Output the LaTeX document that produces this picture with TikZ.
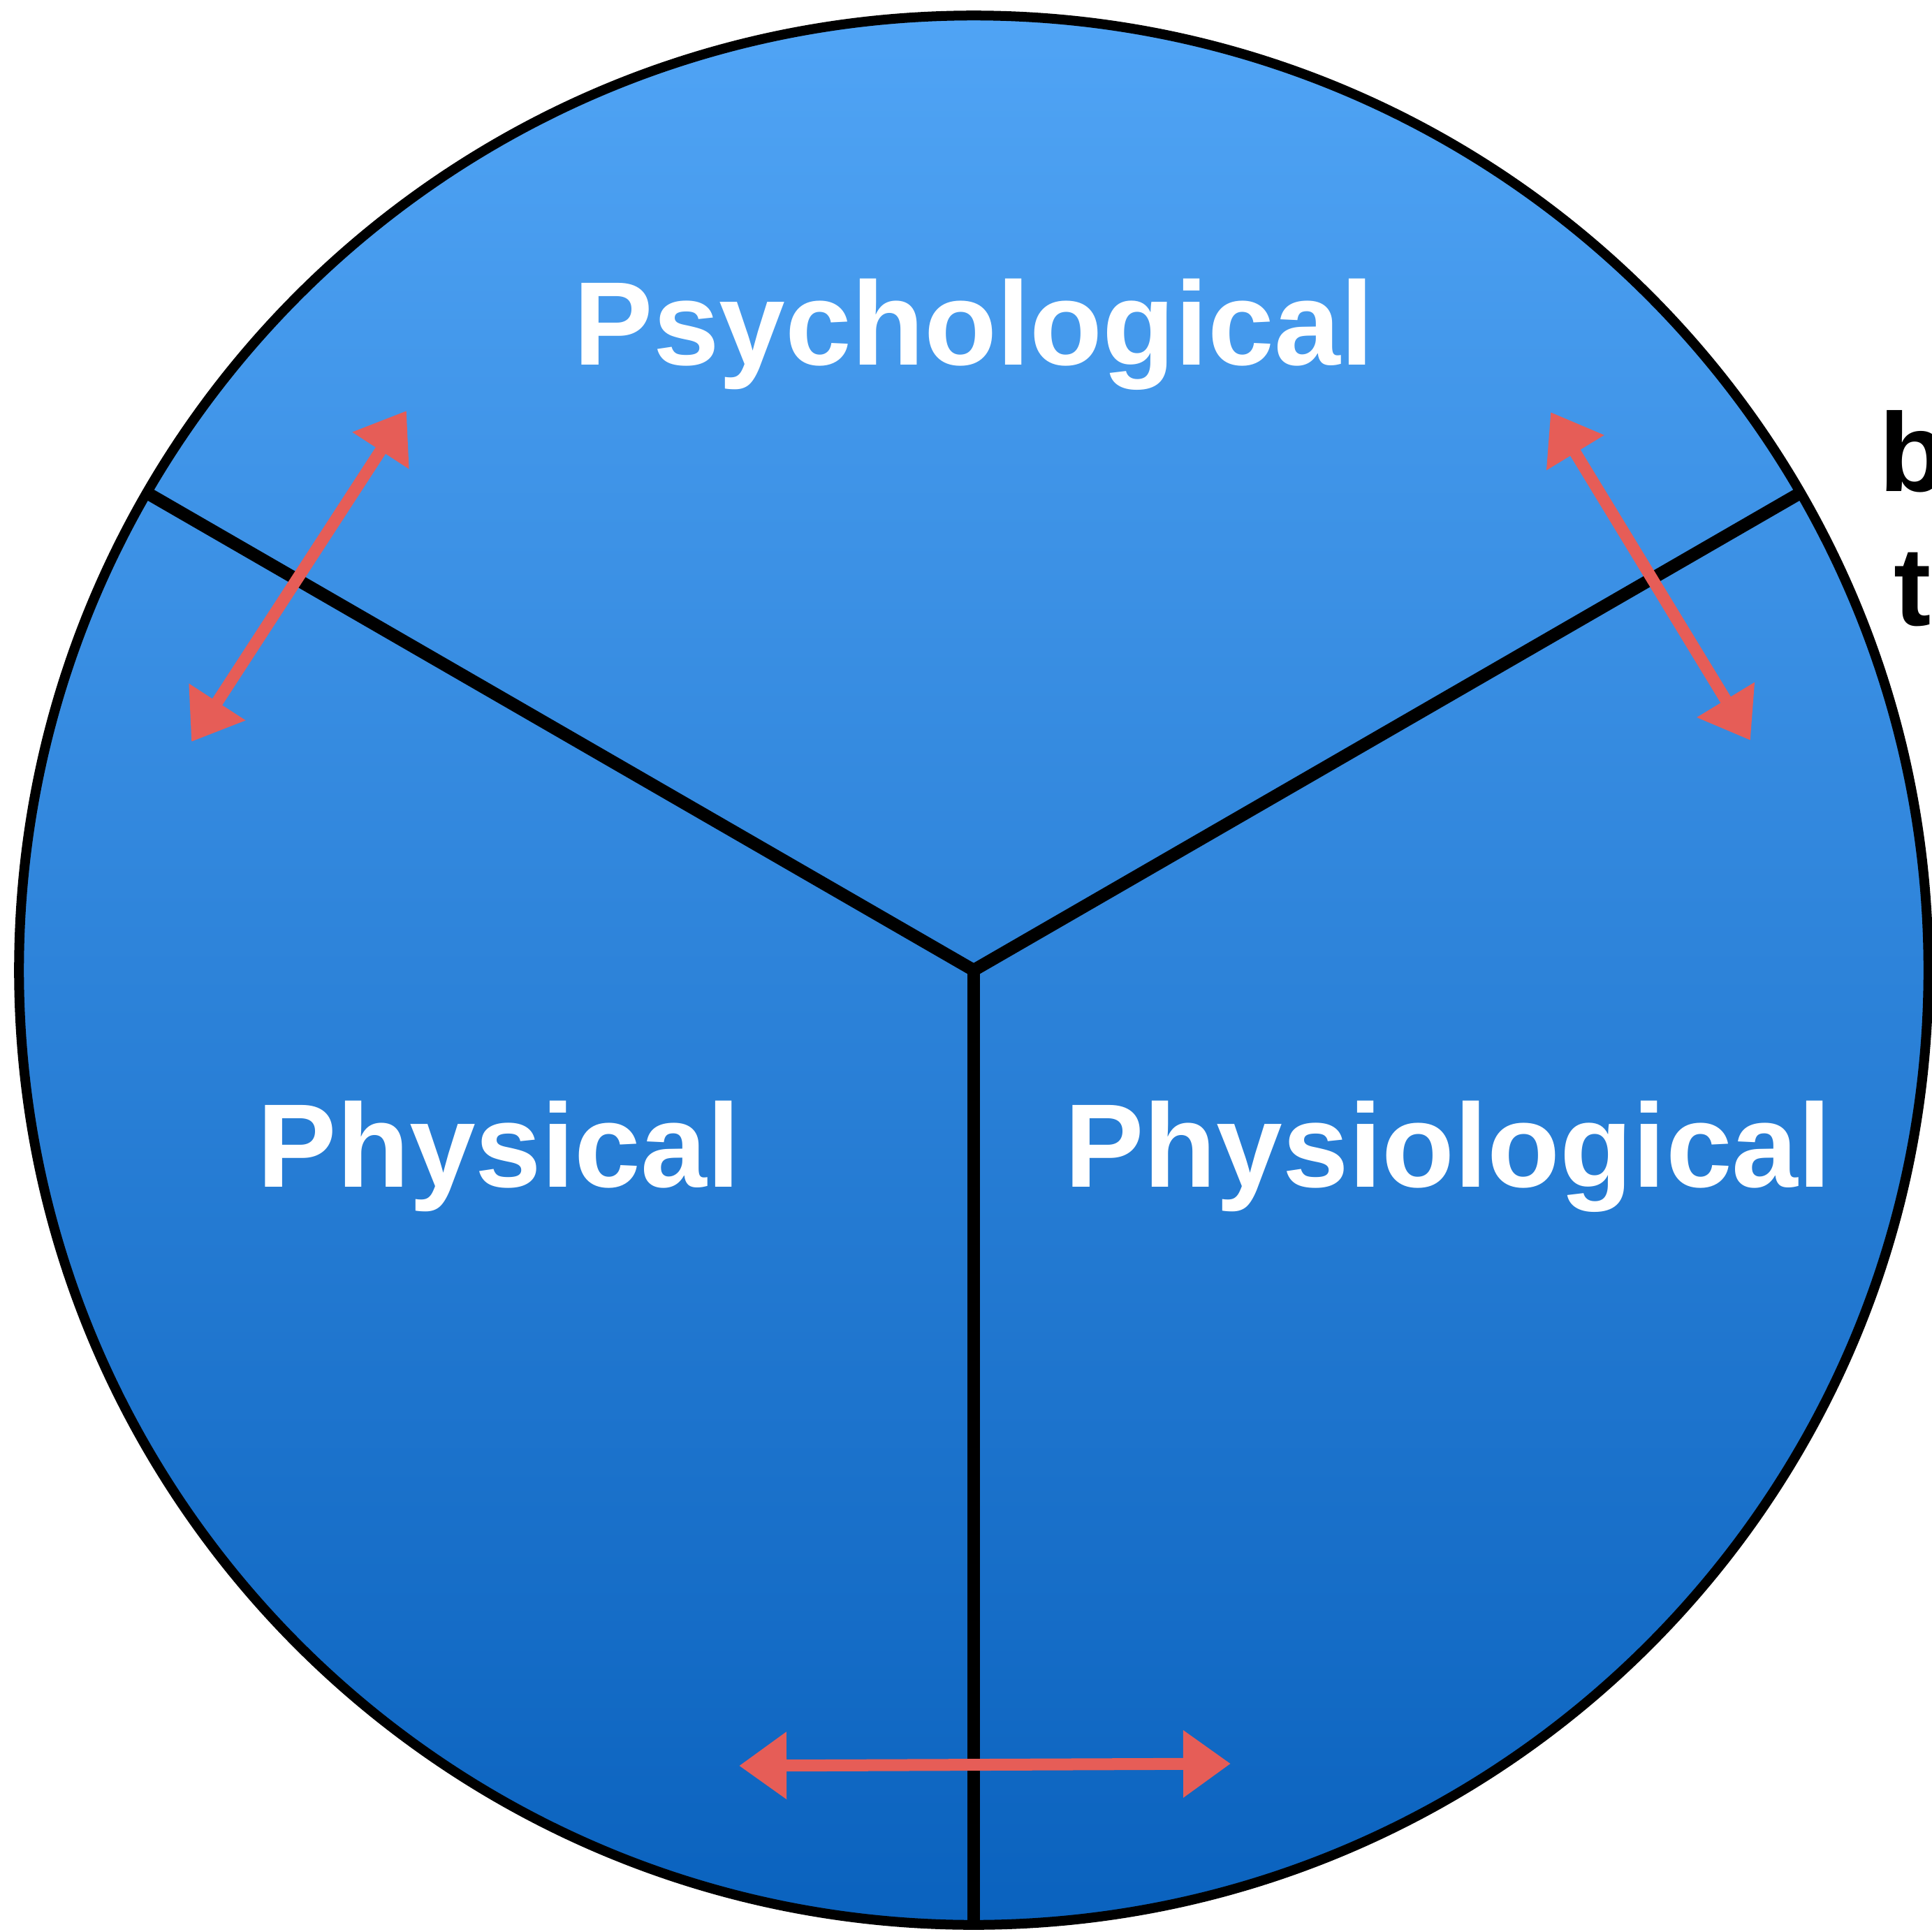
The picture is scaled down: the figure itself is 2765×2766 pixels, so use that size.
\documentclass[tikz,border=0pt]{standalone}
\usepackage{fontspec}
\setmainfont{Liberation Sans}
\usetikzlibrary{arrows.meta}
\definecolor{topblue}{RGB}{80,164,245}
\definecolor{midblue}{RGB}{58,137,220}
\definecolor{botblue}{RGB}{10,98,190}
\definecolor{arrowred}{RGB}{230,93,87}
\tikzset{
  divider/.style={line width=0.18cm, black, line cap=butt, line join=miter},
  rim/.style={line width=0.14cm, black},
  twoway/.style={line width=0.17cm, arrowred, {Triangle[length=0.68cm,width=0.92cm]}-{Triangle[length=0.68cm,width=0.92cm]}},
  sector/.style={white, font=\fontsize{48.4}{58}\selectfont\bfseries, inner sep=0pt, anchor=base},
  edgetext/.style={black, font=\fontsize{45.5}{55}\selectfont\bfseries, inner sep=0pt, anchor=base west}
}
\begin{document}
\begin{tikzpicture}[x=0.01cm,y=-0.01cm]
\useasboundingbox (0,0) rectangle (2765,2766);
\fill[white] (0,0) rectangle (2765,2766);
\coordinate (O) at (1394,1389);
\coordinate (L) at (211,706);
\coordinate (R) at (2577,706);
\coordinate (B) at (1394,2755);
% disc
\shade[top color=topblue, middle color=midblue, bottom color=botblue] (O) circle [radius=13.66cm];
% dividers
\draw[divider] (L) -- (O) -- (R);
\draw[divider] (O) -- (B);
\draw[rim] (O) circle [radius=13.66cm];
% labels
\node[sector] (psy) at (1394,522) {Psychological};
\node[sector] (phy) at (714,1699) {Physical};
\node[sector] (phs) at (2073,1699) {Physiological};
% clipped text at right edge
\node[edgetext] (tb) at (2690,703) {b};
\node[edgetext] (tt) at (2711,895) {t};
% arrows
\coordinate (a1) at (582,588);
\coordinate (a2) at (274,1062);
\coordinate (b1) at (2220,590);
\coordinate (b2) at (2506,1060);
\coordinate (c1) at (1058,2528);
\coordinate (c2) at (1762,2525);
\draw[twoway] (a1) -- (a2);
\draw[twoway] (b1) -- (b2);
\draw[twoway] (c1) -- (c2);
\end{tikzpicture}
\end{document}
